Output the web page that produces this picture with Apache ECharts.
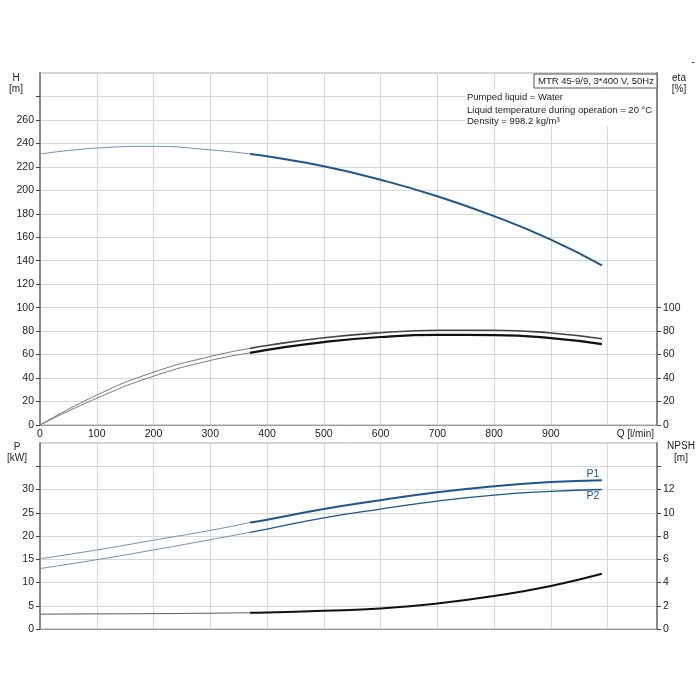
<!DOCTYPE html>
<html><head><meta charset="utf-8">
<script src="https://cdn.jsdelivr.net/npm/echarts@6/dist/echarts.min.js"></script>
<style>html,body{margin:0;padding:0;background:#fff}#c{width:700px;height:700px}</style>
</head><body><div id="c"></div>
<script>
// Flow values (l/min): thin (extrapolated) part and thick (operating) part
const qA = [0, 100, 200, 300, 370];
const qB = [370, 400, 500, 600, 700, 800, 900, 990];
// Head H [m]
const hA = [231, 236, 237.5, 234.5, 231];
const hB = [231, 229, 220.5, 209, 195, 178, 158, 136];
// Efficiency eta [%] (upper and lower curves)
const eta1A = [0, 25.5, 45, 58.4, 65.3];
const eta1B = [65.3, 67.8, 74.4, 78.6, 80.7, 80.8, 78.4, 73.5];
const eta2A = [0, 22.8, 41.6, 55, 61.5];
const eta2B = [61.5, 64.1, 70.7, 75, 76.8, 76.6, 74.1, 69];
// Power P1, P2 [kW]
const p1A = [15.1, 17.0, 19.1, 21.2, 22.9];
const p1B = [22.9, 23.5, 25.8, 27.7, 29.4, 30.7, 31.6, 32.0];
const p2A = [13.0, 14.9, 17.0, 19.2, 20.8];
const p2B = [20.8, 21.5, 23.9, 25.8, 27.5, 28.8, 29.6, 30.0];
// NPSH [m]
const npshA = [1.28, 1.30, 1.32, 1.36, 1.40];
const npshB = [1.40, 1.42, 1.56, 1.76, 2.19, 2.84, 3.70, 4.75];
// Tick labels
const etaTicks = [0, 20, 40, 60, 80, 100];

const pairs = (q, v) => q.map((x, i) => [x, v[i]]);
const BLUE = '#1d5590';
const FONT = 'Liberation Sans';
const lab = {color: '#222', fontSize: 10.5, fontFamily: FONT};
const grid = {show: true, lineStyle: {color: '#d6d6d6', width: 1}};

const chart = echarts.init(document.getElementById('c'));
const line = (name, xi, yi, data, color, width) => ({
  name, type: 'line', xAxisIndex: xi, yAxisIndex: yi, data,
  smooth: 0.5, showSymbol: false, symbol: 'none',
  lineStyle: {color, width}, silent: true, animation: false, z: 3
});
const txt = (x, y, text, opts = {}) => ({
  type: 'text', x, y, z: opts.z || 11,
  style: {text, font: (opts.size || 10) + 'px ' + FONT, fill: opts.fill || '#222',
          align: opts.align || 'center', verticalAlign: 'middle'}
});

chart.setOption({
  animation: false,
  backgroundColor: '#fff',
  grid: [
    {left: 40, top: 73, width: 617, height: 352, show: true, borderColor: '#aaa', borderWidth: 1},
    {left: 40, top: 443, width: 617, height: 186, show: true, borderColor: '#aaa', borderWidth: 1}
  ],
  xAxis: [
    {type: 'value', gridIndex: 0, min: 0, max: 1087, interval: 100,
     axisLine: {show: true, onZero: false, lineStyle: {color: '#999', width: 1}},
     axisTick: {show: false},
     axisLabel: {...lab, margin: 4, showMaxLabel: false, formatter: v => v <= 900 ? String(v) : ''},
     splitLine: grid},
    {type: 'value', gridIndex: 1, min: 0, max: 1087, interval: 100,
     axisLine: {show: true, onZero: false, lineStyle: {color: '#999', width: 1}},
     axisTick: {show: false}, axisLabel: {show: false}, splitLine: grid}
  ],
  yAxis: [
    {type: 'value', gridIndex: 0, min: 0, max: 300, interval: 20, position: 'left',
     axisLine: {show: true, lineStyle: {color: '#888', width: 2}},
     axisTick: {show: true, length: 4, lineStyle: {color: '#444'}},
     axisLabel: {...lab, margin: 6, showMaxLabel: false, formatter: v => v <= 260 ? String(v) : ''},
     splitLine: grid},
    {type: 'value', gridIndex: 0, min: 0, max: 300, interval: 20, position: 'right',
     axisLine: {show: true, lineStyle: {color: '#888', width: 2}},
     axisTick: {show: true, length: 4, lineStyle: {color: '#444'}, customValues: etaTicks},
     axisLabel: {...lab, margin: 6, customValues: etaTicks},
     splitLine: {show: false}},
    {type: 'value', gridIndex: 1, min: 0, max: 40, interval: 5, position: 'left',
     axisLine: {show: true, lineStyle: {color: '#888', width: 2}},
     axisTick: {show: true, length: 4, lineStyle: {color: '#444'}},
     axisLabel: {...lab, margin: 6, showMaxLabel: false, formatter: v => v <= 30 ? String(v) : ''},
     splitLine: grid},
    {type: 'value', gridIndex: 1, min: 0, max: 16, interval: 2, position: 'right',
     axisLine: {show: true, lineStyle: {color: '#888', width: 2}},
     axisTick: {show: true, length: 4, lineStyle: {color: '#444'}},
     axisLabel: {...lab, margin: 6, showMaxLabel: false, formatter: v => v <= 12 ? String(v) : ''},
     splitLine: {show: false}}
  ],
  series: [
    line('H thin', 0, 0, pairs(qA, hA), '#6f8fb5', 1),
    line('H', 0, 0, pairs(qB, hB), BLUE, 2),
    line('eta1 thin', 0, 1, pairs(qA, eta1A), '#777', 1),
    line('eta1', 0, 1, pairs(qB, eta1B), '#444', 1.6),
    line('eta2 thin', 0, 1, pairs(qA, eta2A), '#777', 1),
    line('eta2', 0, 1, pairs(qB, eta2B), '#111', 2.2),
    line('P1 thin', 1, 2, pairs(qA, p1A), '#6f8fb5', 1),
    line('P1', 1, 2, pairs(qB, p1B), BLUE, 2),
    line('P2 thin', 1, 2, pairs(qA, p2A), '#6f8fb5', 1),
    line('P2', 1, 2, pairs(qB, p2B), BLUE, 1.3),
    line('NPSH thin', 1, 3, pairs(qA, npshA), '#555', 1),
    line('NPSH', 1, 3, pairs(qB, npshB), '#111', 2)
  ],
  graphic: [
    {type: 'rect', shape: {x: 465, y: 89, width: 191, height: 37}, style: {fill: '#fff'}, z: 10},
    {type: 'rect', shape: {x: 534, y: 74, width: 123, height: 14}, style: {fill: '#fff', stroke: '#555', lineWidth: 1}, z: 10},
    txt(596, 81, 'MTR 45-9/9, 3*400 V, 50Hz', {size: 9.5}),
    txt(467, 97, 'Pumped liquid = Water', {size: 9.5, align: 'left'}),
    txt(467, 110, 'Liquid temperature during operation = 20 °C', {size: 9.5, align: 'left'}),
    txt(467, 121, 'Density = 998.2 kg/m³', {size: 9.5, align: 'left'}),
    txt(16, 78, 'H'), txt(16, 89, '[m]'),
    txt(679, 78, 'eta'), txt(679, 89, '[%]'),
    txt(17, 447, 'P'), txt(17, 458, '[kW]'),
    txt(681, 446, 'NPSH'), txt(681, 458, '[m]'),
    txt(654, 434, 'Q [l/min]', {align: 'right'}),
    txt(693, 62, '-'),
    txt(593, 474, 'P1', {size: 10.5, fill: BLUE}),
    txt(593, 496, 'P2', {size: 10.5, fill: BLUE})
  ]
});
</script></body></html>
